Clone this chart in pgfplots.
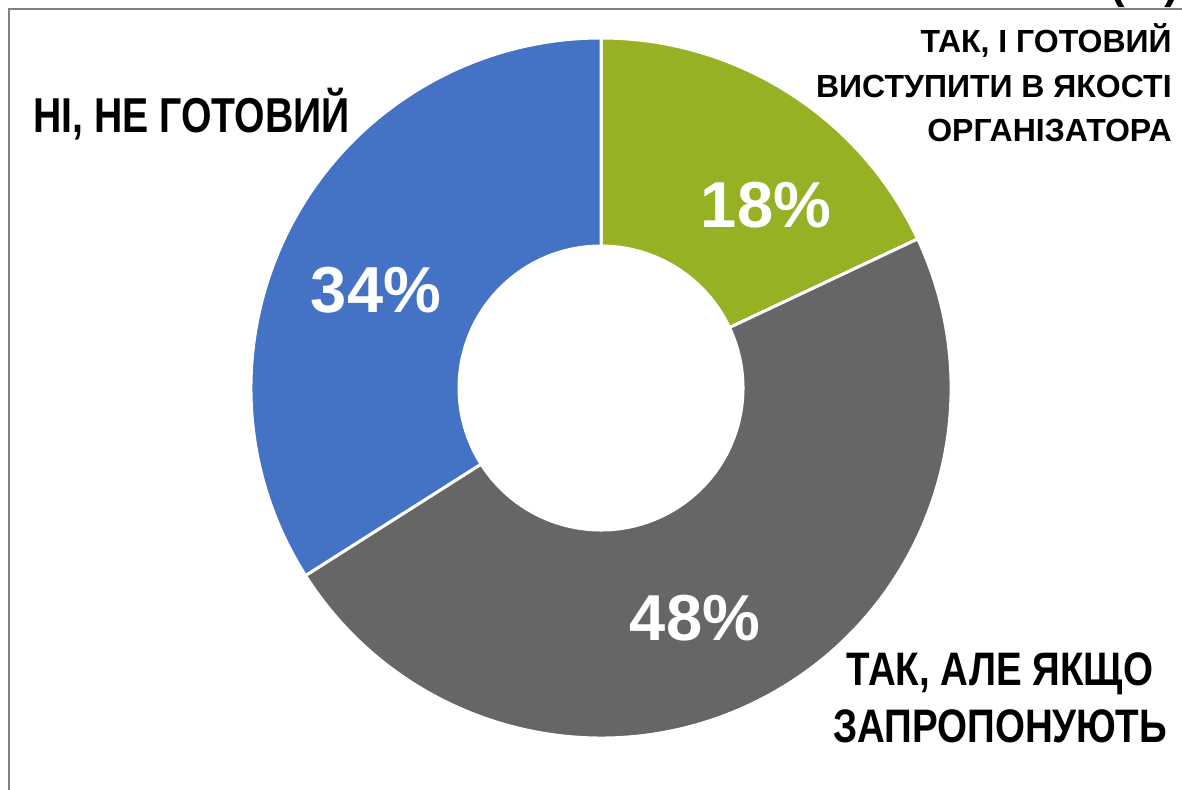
\documentclass[border=0pt]{standalone}
\usepackage{pgfplots}
\usepackage{pgfplotstable}
\pgfplotsset{compat=1.18}
\usepackage{fontspec}
\setmainfont{Liberation Sans}
\newfontfamily\narrowfont{Liberation Sans}[FakeStretch=0.82]
\newfontfamily\narrowerfont{Liberation Sans}[FakeStretch=0.80]

\definecolor{cgreen}{RGB}{150,178,36}
\definecolor{cgray}{RGB}{102,102,102}
\definecolor{cblue}{RGB}{68,114,196}
\definecolor{frame}{RGB}{128,128,128}

% share of answers, clockwise from the top
\pgfplotstableread{
label value col
green 18 cgreen
gray  48 cgray
blue  34 cblue
}\shares

\begin{document}
\begin{tikzpicture}
\begin{axis}[
    width=591pt, height=394.5pt, scale only axis,
    xmin=0, xmax=1182, ymin=0, ymax=789,
    hide axis, clip=false,
]
% frame, cut by the page edge on the right and bottom
\draw[frame, line width=1pt] (axis cs:9,-30) -- (axis cs:9,780) -- (axis cs:1220,780);
\node[anchor=base, inner sep=0pt, font=\bfseries\fontsize{22}{26}\selectfont]
    at (axis cs:1145,790) {(\%)};

% donut slices
\xdef\startang{90}
\pgfplotsinvokeforeach{0,1,2}{
    \pgfplotstablegetelem{#1}{value}\of\shares \let\slval\pgfplotsretval
    \pgfplotstablegetelem{#1}{col}\of\shares \let\slcol\pgfplotsretval
    \pgfmathsetmacro\endang{\startang-3.6*\slval}
    \edef\temp{\noexpand\fill[\slcol, draw=white, line width=1.5pt]
        ([shift={(\startang:175pt)}]axis cs:601,401)
        arc[start angle=\startang, end angle=\endang, radius=175pt]
        -- ([shift={(\endang:71pt)}]axis cs:601,401)
        arc[start angle=\endang, end angle=\startang, radius=71pt] -- cycle;}
    \temp
    \xdef\startang{\endang}
}

% values
\tikzset{pct/.style={anchor=base, text=white, inner sep=0pt,
    font=\bfseries\fontsize{32.5}{36}\selectfont}}
\node[pct] at (axis cs:766,562) {18\%};
\node[pct] at (axis cs:695,149) {48\%};
\node[pct] at (axis cs:376,477) {34\%};

% category names
\tikzset{lab/.style={inner sep=0pt, font=\narrowfont\bfseries\fontsize{23.5}{28}\selectfont}}
\node[lab, anchor=base west, font=\narrowerfont\bfseries\fontsize{24.5}{28}\selectfont] at (axis cs:33,656) {НІ, НЕ ГОТОВИЙ};
\node[lab, anchor=base] at (axis cs:1000,104) {ТАК, АЛЕ ЯКЩО};
\node[lab, anchor=base] at (axis cs:1000,47) {ЗАПРОПОНУЮТЬ};
\tikzset{small/.style={inner sep=0pt, anchor=base east, font=\bfseries\fontsize{16}{19}\selectfont}}
\node[small] at (axis cs:1172,736) {ТАК, І ГОТОВИЙ};
\node[small] at (axis cs:1172,691) {ВИСТУПИТИ В ЯКОСТІ};
\node[small] at (axis cs:1172,647) {ОРГАНІЗАТОРА};
\end{axis}
\pgfresetboundingbox
\useasboundingbox (current axis.south west) rectangle (current axis.north east);
\end{tikzpicture}
\end{document}
